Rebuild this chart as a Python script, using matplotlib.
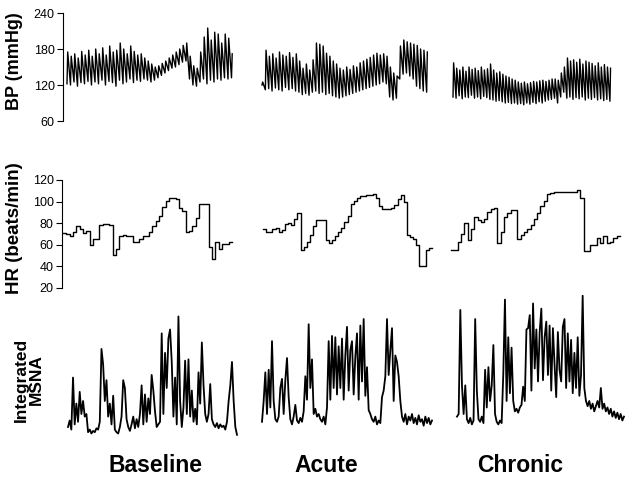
import numpy as np
import matplotlib.pyplot as plt

plt.rcParams['font.family'] = ['Liberation Sans', 'DejaVu Sans']

# ---- data ----
columns = ['Baseline', 'Acute', 'Chronic']

# blood pressure, one systolic / diastolic pair per beat (mmHg)
sys_base = [175, 168, 172, 165, 176, 170, 178, 168, 180, 172, 182, 170, 185, 175, 178, 190, 180, 172, 185, 176,
            170, 172, 165, 160, 155, 150, 152, 156, 160, 165, 170, 175, 180, 186, 190, 168, 152, 148, 175, 200,
            215, 195, 208, 205, 190, 205, 198, 172]
dia_base = [122, 120, 125, 118, 124, 122, 126, 120, 125, 122, 128, 120, 126, 124, 118, 128, 122, 125, 130, 124,
            128, 126, 130, 128, 125, 128, 132, 136, 140, 144, 148, 150, 154, 158, 160, 130, 120, 118, 125, 130,
            122, 128, 125, 130, 128, 132, 130, 132]
sys_acute = [125, 178, 168, 172, 165, 175, 170, 168, 174, 166, 172, 160, 148, 155, 145, 162, 190, 188, 185, 173,
             168, 160, 155, 148, 145, 150, 146, 152, 150, 157, 160, 163, 166, 170, 173, 170, 172, 168, 150, 140,
             135, 185, 195, 192, 190, 188, 186, 180, 178, 175]
dia_acute = [120, 112, 114, 110, 115, 112, 110, 116, 112, 114, 110, 108, 104, 106, 103, 108, 110, 106, 108, 104,
             106, 102, 100, 98, 100, 102, 104, 106, 108, 110, 112, 114, 116, 118, 120, 122, 125, 122, 100, 95,
             98, 130, 138, 140, 135, 130, 118, 114, 110, 108]
sys_chronic = [157, 148, 145, 150, 143, 150, 146, 148, 144, 150, 145, 147, 155, 145, 140, 142, 138, 135, 133, 130,
               128, 125, 123, 125, 122, 124, 126, 125, 127, 128, 126, 128, 130, 130, 128, 140, 150, 165, 160, 162,
               158, 163, 155, 160, 158, 156, 152, 157, 150, 154, 150, 148]
dia_chronic = [100, 98, 102, 97, 100, 99, 103, 98, 100, 97, 101, 99, 96, 95, 93, 94, 92, 90, 91, 89,
               90, 88, 89, 87, 90, 88, 91, 89, 92, 90, 93, 95, 96, 98, 90, 100, 108, 98, 100, 96,
               99, 97, 100, 95, 98, 96, 99, 95, 97, 94, 96, 93]

# heart rate (beats/min), beat-to-beat steps
hr_base = [71, 70, 68, 72, 77, 75, 71, 73, 60, 65, 65, 78, 79, 79, 78, 51, 56, 68, 69, 68,
           68, 63, 63, 65, 68, 68, 72, 77, 82, 87, 95, 101, 103, 103, 102, 94, 91, 72, 73, 77,
           85, 98, 98, 98, 58, 47, 63, 56, 61, 61, 63]
hr_acute = [75, 72, 72, 75, 76, 72, 74, 79, 80, 78, 84, 89, 55, 58, 63, 69, 77, 83, 83, 83,
            64, 62, 64, 68, 72, 76, 81, 87, 98, 101, 103, 105, 105, 106, 106, 107, 103, 96, 93, 93,
            93, 94, 97, 102, 106, 100, 69, 67, 65, 60, 40, 40, 55, 57]
hr_chronic = [55, 55, 63, 70, 80, 64, 75, 86, 83, 81, 84, 90, 93, 94, 62, 72, 86, 89, 92, 92,
              65, 69, 72, 75, 78, 84, 89, 96, 101, 107, 108, 109, 109, 109, 109, 109, 109, 109, 111, 103,
              54, 54, 60, 60, 66, 62, 68, 62, 63, 66, 68]

# integrated MSNA (arbitrary units)
msna_base = [10, 15, 8, 48, 12, 28, 14, 37, 20, 30, 18, 20, 6, 8, 5, 7, 6, 9, 8, 14,
             70, 58, 30, 46, 18, 28, 12, 34, 8, 6, 5, 10, 18, 46, 40, 16, 10, 7, 12, 18,
             9, 16, 10, 20, 42, 12, 35, 14, 32, 20, 50, 38, 22, 10, 12, 14, 82, 20, 67, 40,
             78, 85, 60, 18, 48, 12, 95, 30, 10, 25, 61, 20, 62, 18, 38, 14, 24, 12, 52, 28,
             75, 42, 20, 14, 20, 43, 16, 12, 10, 13, 9, 12, 10, 11, 8, 14, 30, 42, 60, 30,
             10, 4]
msna_acute = [14, 30, 52, 20, 54, 25, 76, 30, 16, 14, 18, 40, 47, 20, 46, 63, 33, 16, 12, 18,
              27, 15, 13, 17, 14, 22, 49, 31, 89, 40, 62, 20, 24, 18, 20, 16, 14, 18, 12, 25,
              76, 31, 80, 40, 79, 35, 72, 40, 78, 31, 65, 87, 38, 69, 76, 35, 64, 82, 31, 88,
              45, 93, 34, 56, 23, 20, 16, 14, 18, 12, 15, 13, 33, 38, 49, 93, 50, 69, 86, 30,
              65, 60, 49, 30, 18, 14, 20, 12, 18, 15, 20, 13, 17, 12, 19, 14, 16, 11, 18, 13,
              17, 12, 15]
msna_chronic = [18, 20, 100, 42, 20, 42, 16, 13, 17, 12, 15, 93, 38, 16, 14, 18, 13, 54, 25, 56,
                30, 42, 73, 20, 14, 12, 15, 13, 51, 108, 30, 79, 36, 71, 30, 22, 24, 21, 25, 27,
                41, 30, 85, 86, 96, 38, 105, 55, 85, 45, 83, 101, 46, 79, 91, 50, 88, 38, 86, 58,
                33, 83, 54, 45, 87, 93, 40, 82, 45, 77, 36, 67, 40, 79, 34, 50, 111, 40, 30, 26,
                30, 24, 28, 22, 26, 30, 25, 40, 24, 28, 22, 25, 20, 24, 18, 22, 17, 21, 16, 20,
                15, 18]

bp_sys = [sys_base, sys_acute, sys_chronic]
bp_dia = [dia_base, dia_acute, dia_chronic]
hr_all = [hr_base, hr_acute, hr_chronic]
msna_all = [msna_base, msna_acute, msna_chronic]

# ---- layout (figure pixels) ----
W, H = 625, 479
fig = plt.figure(figsize=(W / 100, H / 100), dpi=100)


def px_axes(left, top, right, bottom):
    return fig.add_axes([left / W, 1 - bottom / H, (right - left) / W, (bottom - top) / H])


bp_spans = [(67, 235), (262, 430), (453, 613)]
hr_spans = [(63, 232), (263, 432), (451, 620)]
msna_spans = [(68, 237), (262, 432), (457, 624)]

# BP row
ax_bp = px_axes(63, 13, 625, 121)
for (x0, x1), s, d in zip(bp_spans, bp_sys, bp_dia):
    n = len(s)
    dt = (x1 - x0) / n
    t = x0 + np.arange(n) * dt
    xs = np.column_stack([t, t + 0.2 * dt]).ravel()
    ys = np.column_stack([d, s]).ravel()
    ax_bp.plot(xs, ys, color='black', lw=1.0)
ax_bp.set_xlim(63, 625)
ax_bp.set_ylim(60, 240)
ax_bp.set_yticks([60, 120, 180, 240])

# HR row
ax_hr = px_axes(62, 180, 625, 288)
for (x0, x1), v in zip(hr_spans, hr_all):
    xs = np.linspace(x0, x1, len(v) + 1)
    ax_hr.plot(xs, v + [v[-1]], drawstyle='steps-post', color='black', lw=1.0)
ax_hr.set_xlim(62, 625)
ax_hr.set_ylim(20, 120)
ax_hr.set_yticks([20, 40, 60, 80, 100, 120])

# MSNA row
ax_ms = px_axes(62, 295, 625, 440)
for (x0, x1), v in zip(msna_spans, msna_all):
    xs = np.linspace(x0, x1, len(v))
    ax_ms.plot(xs, v, color='black', lw=1.3)
ax_ms.set_xlim(62, 625)
ax_ms.set_ylim(0, 111.5)
ax_ms.axis('off')

for ax in (ax_bp, ax_hr):
    for side in ('top', 'right', 'bottom'):
        ax.spines[side].set_visible(False)
    ax.spines['left'].set_linewidth(0.8)
    ax.set_xticks([])
    ax.tick_params(axis='y', length=4, width=0.8, labelsize=9, pad=2)

# labels
fig.text(15 / W, 1 - 61 / H, 'BP (mmHg)', rotation=90, ha='center', va='center',
         fontsize=13, fontweight='bold')
fig.text(15 / W, 1 - 228 / H, 'HR (beats/min)', rotation=90, ha='center', va='center',
         fontsize=13.5, fontweight='bold')
fig.text(29 / W, 1 - 380 / H, 'Integrated\nMSNA', rotation=90, ha='center', va='center',
         fontsize=12.5, fontweight='bold', linespacing=1.0)

for name, cx in zip(columns, [155, 326, 520]):
    fig.text(cx / W, 1 - 465 / H, name, ha='center', va='center', fontsize=16.5, fontweight='bold')

fig.savefig('out.png', dpi=100)
